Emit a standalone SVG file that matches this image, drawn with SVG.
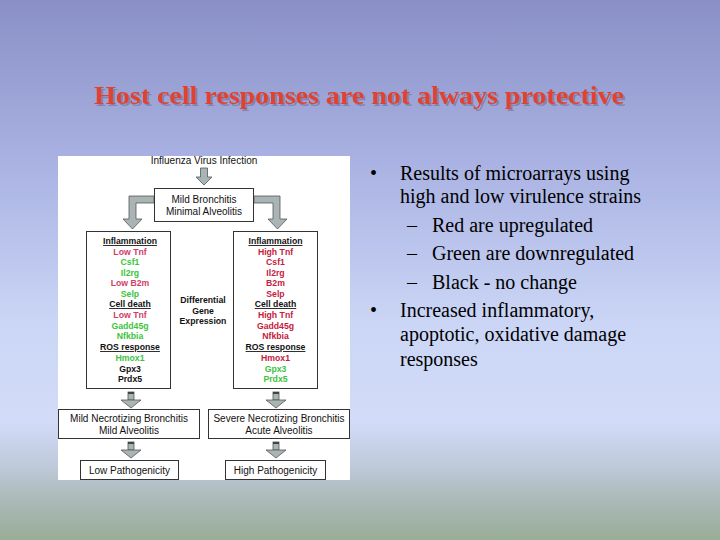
<svg xmlns="http://www.w3.org/2000/svg" width="720" height="540" viewBox="0 0 720 540">
<defs>
<linearGradient id="bg" x1="0" y1="0" x2="0" y2="1">
<stop offset="0" stop-color="#8a90c6"/>
<stop offset="0.3" stop-color="#a9b2e2"/>
<stop offset="0.6" stop-color="#cbd6f6"/>
<stop offset="0.78" stop-color="#d2dcf8"/>
<stop offset="0.86" stop-color="#bfcadc"/>
<stop offset="0.93" stop-color="#aab9b6"/>
<stop offset="1" stop-color="#98ad97"/>
</linearGradient>
<filter id="shadow" x="-5%" y="-30%" width="110%" height="160%">
<feDropShadow dx="2" dy="2" stdDeviation="0.6" flood-color="#6a6288" flood-opacity="0.5"/>
</filter>
<g id="sarrow">
<rect x="-3" y="0" width="6" height="8" fill="#a9b4b4" stroke="#555" stroke-width="0.8"/>
<rect x="-3" y="0" width="6" height="2" fill="#444"/>
<path d="M-10,8 L10,8 L0,16 Z" fill="#a9b4b4" stroke="#555" stroke-width="0.8"/>
</g>
</defs>
<style>
.t{font-family:"Liberation Sans",Arial,sans-serif;font-size:10px;fill:#111;text-anchor:middle}
.l{font-family:"Liberation Sans",Arial,sans-serif;font-size:8.7px;font-weight:bold;text-anchor:middle}
.h{fill:#111;text-decoration:underline}
.r{fill:#c4203e}
.p{fill:#d23c66}
.g{fill:#3cc43c}
.k{fill:#111}
.box{fill:#fff;stroke:#333;stroke-width:1}
.arr{fill:#a9b4b4;stroke:#555;stroke-width:0.8}
.b{font-family:"Liberation Serif","Times New Roman",serif;font-size:20px;fill:#000}
</style>
<rect width="720" height="540" fill="url(#bg)"/>
<text x="359" y="104" font-family="Liberation Serif,'Times New Roman',serif" font-size="26" font-weight="bold" fill="#e0432d" text-anchor="middle" textLength="530" lengthAdjust="spacingAndGlyphs" filter="url(#shadow)">Host cell responses are not always protective</text>
<rect x="58" y="156" width="292" height="324" fill="#fff"/>
<g id="infection"><text class="t" x="204" y="164">Influenza Virus Infection</text></g>
<g id="connectors">
<path class="arr" d="M200.5,168 L207.5,168 L207.5,177 L212,177 L204,185 L196,177 L200.5,177 Z"/>
<path class="arr" d="M154,196 L129,196 L129,219 L123,219 L132.5,229 L142,219 L136,219 L136,203 L154,203 Z"/>
<path class="arr" d="M254,196 L280,196 L280,219 L287,219 L277.5,229 L268,219 L273,219 L273,203 L254,203 Z"/>
<use href="#sarrow" x="131" y="392"/>
<use href="#sarrow" x="276" y="392"/>
<use href="#sarrow" x="131" y="442"/>
<use href="#sarrow" x="276" y="442"/>
</g>
<g id="mild-bronchitis">
<rect class="box" x="154.5" y="188.5" width="99" height="33"/>
<text class="t" x="204" y="202.5">Mild Bronchitis</text>
<text class="t" x="204" y="215">Minimal Alveolitis</text>
</g>
<g id="low-list">
<rect class="box" x="86.5" y="231.5" width="84" height="157"/>
<text class="l h" x="130" y="244">Inflammation</text>
<text class="l p" x="130" y="255">Low Tnf</text>
<text class="l g" x="130" y="265">Csf1</text>
<text class="l g" x="130" y="276">Il2rg</text>
<text class="l p" x="130" y="286">Low B2m</text>
<text class="l g" x="130" y="297">Selp</text>
<text class="l h" x="130" y="307">Cell death</text>
<text class="l p" x="130" y="318">Low Tnf</text>
<text class="l g" x="130" y="329">Gadd45g</text>
<text class="l g" x="130" y="339">Nfkbia</text>
<text class="l h" x="130" y="350">ROS response</text>
<text class="l g" x="130" y="361">Hmox1</text>
<text class="l k" x="130" y="372">Gpx3</text>
<text class="l k" x="130" y="382">Prdx5</text>
</g>
<g id="differential">
<text class="l k" x="203" y="303">Differential</text>
<text class="l k" x="203" y="314">Gene</text>
<text class="l k" x="203" y="324">Expression</text>
</g>
<g id="high-list">
<rect class="box" x="233.5" y="231.5" width="84" height="157"/>
<text class="l h" x="275.5" y="244">Inflammation</text>
<text class="l r" x="275.5" y="255">High Tnf</text>
<text class="l r" x="275.5" y="265">Csf1</text>
<text class="l r" x="275.5" y="276">Il2rg</text>
<text class="l r" x="275.5" y="286">B2m</text>
<text class="l r" x="275.5" y="297">Selp</text>
<text class="l h" x="275.5" y="307">Cell death</text>
<text class="l r" x="275.5" y="318">High Tnf</text>
<text class="l r" x="275.5" y="329">Gadd45g</text>
<text class="l r" x="275.5" y="339">Nfkbia</text>
<text class="l h" x="275.5" y="350">ROS response</text>
<text class="l r" x="275.5" y="361">Hmox1</text>
<text class="l g" x="275.5" y="372">Gpx3</text>
<text class="l g" x="275.5" y="382">Prdx5</text>
</g>
<g id="mild-necrotizing">
<rect class="box" x="58.5" y="409.5" width="141" height="29"/>
<text class="t" x="129" y="421.5">Mild Necrotizing Bronchitis</text>
<text class="t" x="129" y="433.5">Mild Alveolitis</text>
</g>
<g id="severe-necrotizing">
<rect class="box" x="208.5" y="409.5" width="141" height="29"/>
<text class="t" x="279" y="421.5">Severe Necrotizing Bronchitis</text>
<text class="t" x="279" y="433.5">Acute Alveolitis</text>
</g>
<g id="low-pathogenicity">
<rect class="box" x="80.5" y="460.5" width="98" height="19"/>
<text class="t" x="129.5" y="473.5">Low Pathogenicity</text>
</g>
<g id="high-pathogenicity">
<rect class="box" x="225.5" y="460.5" width="100" height="19"/>
<text class="t" x="275.5" y="473.5">High Pathogenicity</text>
</g>
<g id="bullets">
<text class="b" x="370" y="180">•</text>
<text class="b" x="400" y="180">Results of microarrays using</text>
<text class="b" x="400" y="203">high and low virulence strains</text>
<text class="b" x="407" y="232">–</text>
<text class="b" x="432" y="232">Red are upregulated</text>
<text class="b" x="407" y="260">–</text>
<text class="b" x="432" y="260">Green are downregulated</text>
<text class="b" x="407" y="289">–</text>
<text class="b" x="432" y="289">Black - no change</text>
<text class="b" x="370" y="317">•</text>
<text class="b" x="400" y="317">Increased inflammatory,</text>
<text class="b" x="400" y="341">apoptotic, oxidative damage</text>
<text class="b" x="400" y="366">responses</text>
</g>
</svg>
